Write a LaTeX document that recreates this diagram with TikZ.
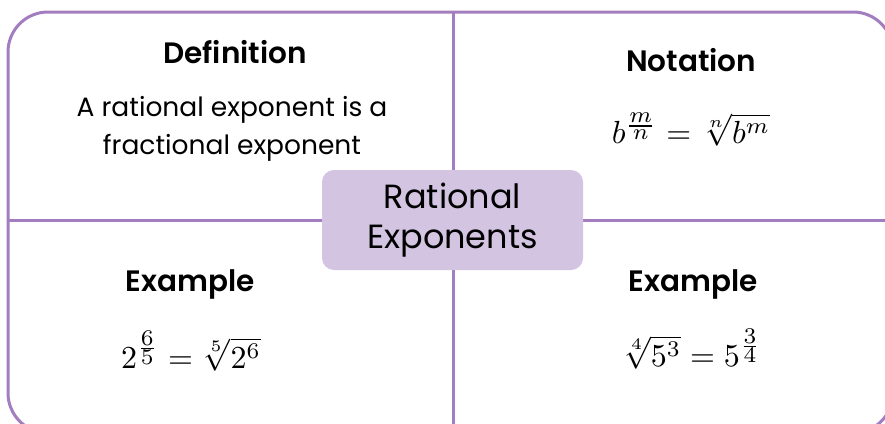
\documentclass[tikz,border=0pt]{standalone}
\usepackage{amsmath}
\usepackage{graphicx}
\usepackage{fontspec}
\setmainfont{Poppins}[BoldFont={Poppins SemiBold}]
\definecolor{framepurple}{RGB}{162,125,192}
\definecolor{boxpurple}{RGB}{211,196,226}
\newcommand{\bigmath}[1]{\scalebox{3.2}{$#1$}}
\newcommand{\supfrac}[2]{\frac{\scriptstyle #1}{\scriptstyle #2}}
\tikzset{
  frameline/.style={draw=framepurple, line width=3pt},
  headtext/.style={font=\fontsize{29.5}{32}\selectfont\bfseries, inner sep=0pt, anchor=base},
  bodytext/.style={font=\fontsize{26.5}{38}\selectfont, inner sep=0pt, align=center},
  mathtext/.style={inner sep=0pt},
  centerbox/.style={fill=boxpurple, draw=none, rounded corners=12pt, minimum width=261pt, minimum height=100pt, align=center, font=\fontsize{33.5}{40}\selectfont}
}
\begin{document}
\begin{tikzpicture}[x=1pt,y=-1pt]
\useasboundingbox (0,0) rectangle (885,423);
\clip (0,0) rectangle (885,423);
\fill[white] (0,0) rectangle (885,423);
\draw[frameline, rounded corners=40pt] (8,12) rectangle (893,433);
\coordinate (vt) at (453,12);
\coordinate (vb) at (453,433);
\coordinate (hl) at (8,220);
\coordinate (hr) at (893,220);
\draw[frameline] (vt) -- (vb);
\draw[frameline] (hl) -- (hr);
\node[centerbox] (center) at (452.5,220) {Rational\\Exponents};
\node[headtext] (defhead) at (235,63) {Definition};
\node[bodytext] (deftext) at (232,129) {A rational exponent is a\\fractional exponent};
\node[headtext] (nothead) at (691,71) {Notation};
\node[mathtext] (notmath) at (691,130) {\bigmath{b^{\supfrac{m}{n}} = \sqrt[n]{b^m}}};
\node[headtext] (ex1head) at (190,291) {Example};
\node[mathtext] (ex1math) at (191,351) {\bigmath{2^{\supfrac{6}{5}} = \sqrt[5]{2^6}}};
\node[headtext] (ex2head) at (693,291) {Example};
\node[mathtext] (ex2math) at (692,349) {\bigmath{\sqrt[4]{5^3} = 5^{\supfrac{3}{4}}}};
\end{tikzpicture}
\end{document}
